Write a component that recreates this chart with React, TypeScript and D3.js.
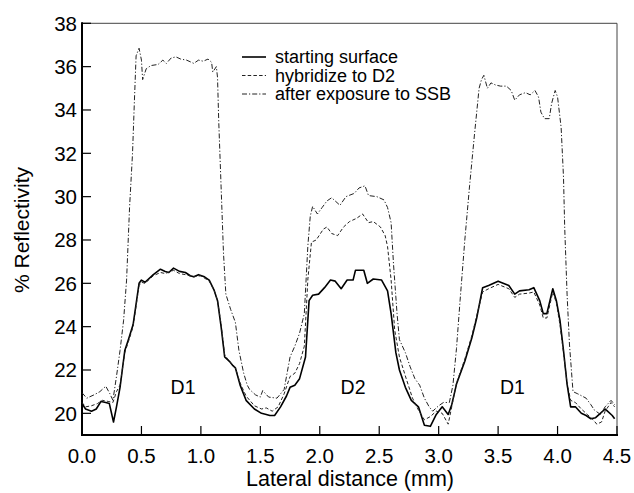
import React from "react";
import * as d3 from "d3";

const xTicks = [0, 0.5, 1.0, 1.5, 2.0, 2.5, 3.0, 3.5, 4.0, 4.5];
const yTicks = [20, 22, 24, 26, 28, 30, 32, 34, 36, 38];
const seriesNames = ["starting surface", "hybridize to D2", "after exposure to SSB"];
const regionLabels = ["D1", "D2", "D1"];
const regionX = [0.85, 2.28, 3.62];

const starting: [number, number][] = [
  [0, 20.45], [0.03, 20.2], [0.08, 20.1], [0.12, 20.2], [0.16, 20.55], [0.2, 20.5], [0.23, 20.45],
  [0.265, 19.6], [0.29, 20.3], [0.32, 21.2], [0.36, 22.9], [0.39, 23.4], [0.43, 24.1], [0.48, 26.0],
  [0.5, 26.15], [0.53, 26.05], [0.6, 26.4], [0.66, 26.65], [0.7, 26.55], [0.73, 26.5], [0.77, 26.7],
  [0.82, 26.55], [0.87, 26.5], [0.91, 26.35], [0.94, 26.3], [0.98, 26.4], [1.03, 26.3], [1.07, 26.15],
  [1.11, 25.7], [1.14, 25.2], [1.17, 24.0], [1.2, 22.6], [1.24, 22.4], [1.27, 22.2], [1.29, 22.1],
  [1.33, 21.3], [1.38, 20.6], [1.45, 20.2], [1.51, 20.0], [1.55, 19.95], [1.58, 19.9], [1.62, 19.9],
  [1.67, 20.3], [1.72, 20.8], [1.75, 21.2], [1.79, 21.3], [1.83, 21.6], [1.88, 22.6], [1.91, 25.2],
  [1.94, 25.45], [1.99, 25.5], [2.04, 25.8], [2.09, 26.15], [2.13, 26.1], [2.18, 25.75], [2.23, 26.15],
  [2.28, 26.15], [2.3, 26.6], [2.37, 26.6], [2.4, 26.0], [2.45, 26.2], [2.52, 26.15], [2.57, 25.65],
  [2.6, 24.6], [2.64, 22.8], [2.67, 22.0], [2.72, 21.2], [2.77, 20.6], [2.83, 20.3], [2.88, 19.45],
  [2.93, 19.4], [2.98, 19.95], [3.03, 20.3], [3.08, 19.95], [3.11, 20.4], [3.15, 21.35], [3.22, 22.4],
  [3.28, 23.5], [3.32, 24.4], [3.37, 25.8], [3.42, 25.9], [3.5, 26.1], [3.59, 25.9], [3.64, 25.5],
  [3.68, 25.65], [3.76, 25.7], [3.8, 25.8], [3.85, 25.2], [3.88, 24.6], [3.91, 24.6], [3.96, 25.75],
  [3.99, 25.2], [4.02, 24.3], [4.05, 22.9], [4.08, 21.35], [4.11, 20.3], [4.15, 20.3], [4.2, 20.0],
  [4.24, 19.9], [4.28, 19.75], [4.32, 19.8], [4.36, 20.0], [4.4, 20.2], [4.42, 20.1], [4.46, 19.9],
  [4.48, 19.75],
];

const hybridize: [number, number][] = [
  [0, 20.5], [0.03, 20.3], [0.08, 20.35], [0.13, 20.45], [0.17, 20.6], [0.22, 20.55], [0.26, 20.5],
  [0.29, 21.0], [0.32, 21.3], [0.36, 22.8], [0.39, 23.3], [0.43, 24.0], [0.48, 25.9], [0.5, 26.05],
  [0.53, 26.0], [0.6, 26.35], [0.66, 26.5], [0.7, 26.45], [0.77, 26.6], [0.82, 26.45], [0.87, 26.4],
  [0.94, 26.3], [1.0, 26.35], [1.07, 26.1], [1.11, 25.7], [1.14, 25.2], [1.17, 24.1], [1.2, 22.7],
  [1.24, 22.4], [1.29, 22.1], [1.33, 21.4], [1.38, 20.8], [1.45, 20.35], [1.51, 20.2], [1.55, 20.25],
  [1.6, 20.1], [1.65, 20.3], [1.7, 20.9], [1.75, 21.7], [1.79, 21.85], [1.83, 22.3], [1.87, 23.1],
  [1.9, 26.2], [1.93, 27.9], [1.97, 28.0], [2.03, 28.5], [2.06, 28.6], [2.1, 28.3], [2.15, 28.2],
  [2.2, 28.6], [2.25, 28.85], [2.31, 29.0], [2.36, 29.2], [2.41, 28.8], [2.45, 28.85], [2.51, 28.6],
  [2.55, 28.2], [2.57, 27.7], [2.6, 26.15], [2.63, 23.85], [2.67, 22.6], [2.73, 21.55], [2.78, 20.7],
  [2.83, 20.15], [2.88, 19.7], [2.93, 19.85], [2.98, 20.1], [3.03, 20.0], [3.08, 19.5], [3.11, 20.3],
  [3.15, 21.4], [3.22, 22.5], [3.28, 23.6], [3.32, 24.5], [3.37, 25.6], [3.42, 25.75], [3.5, 25.95],
  [3.59, 25.75], [3.64, 25.35], [3.68, 25.5], [3.76, 25.55], [3.8, 25.6], [3.85, 25.0], [3.88, 24.4],
  [3.91, 24.4], [3.96, 25.6], [3.99, 25.1], [4.02, 24.1], [4.05, 22.8], [4.08, 21.4], [4.11, 20.6],
  [4.15, 20.5], [4.2, 20.2], [4.25, 19.95], [4.3, 19.7], [4.33, 19.5], [4.37, 19.6], [4.4, 20.1],
  [4.45, 20.5], [4.48, 20.3],
];

const exposure: [number, number][] = [
  [0, 20.95], [0.04, 20.7], [0.1, 20.85], [0.15, 21.0], [0.2, 21.25], [0.235, 20.9], [0.26, 20.6],
  [0.29, 21.7], [0.32, 22.9], [0.35, 24.3], [0.375, 26.15], [0.4, 29.5], [0.425, 32.0], [0.44, 34.3],
  [0.455, 36.5], [0.48, 36.85], [0.5, 36.3], [0.51, 35.4], [0.54, 35.9], [0.58, 36.05], [0.64, 36.1],
  [0.68, 36.3], [0.71, 36.15], [0.75, 36.4], [0.79, 36.45], [0.83, 36.35], [0.88, 36.3], [0.94, 36.15],
  [0.98, 36.3], [1.02, 36.25], [1.06, 36.35], [1.09, 36.2], [1.1, 35.75], [1.13, 36.0], [1.14, 35.5],
  [1.15, 33.5], [1.17, 30.45], [1.19, 27.4], [1.21, 25.5], [1.25, 24.8], [1.29, 24.2], [1.32, 22.9],
  [1.36, 21.85], [1.39, 21.3], [1.41, 21.1], [1.46, 20.85], [1.5, 20.75], [1.52, 21.05], [1.57, 20.75],
  [1.64, 20.7], [1.7, 21.1], [1.75, 22.6], [1.79, 23.1], [1.83, 23.7], [1.87, 24.6], [1.9, 27.75],
  [1.92, 29.1], [1.94, 29.55], [1.98, 29.2], [2.02, 29.5], [2.06, 29.8], [2.1, 29.95], [2.17, 29.6],
  [2.22, 30.0], [2.29, 30.15], [2.33, 30.4], [2.38, 30.5], [2.41, 30.05], [2.48, 30.0], [2.54, 29.85],
  [2.57, 29.5], [2.6, 28.8], [2.62, 26.9], [2.65, 24.6], [2.67, 23.4], [2.72, 22.8], [2.76, 22.15],
  [2.8, 21.6], [2.84, 21.3], [2.88, 20.7], [2.92, 20.3], [2.95, 20.1], [3.0, 20.35], [3.04, 20.5],
  [3.09, 20.5], [3.12, 21.3], [3.15, 23.0], [3.18, 25.2], [3.22, 28.0], [3.26, 30.5], [3.3, 32.8],
  [3.34, 35.0], [3.36, 35.4], [3.38, 35.6], [3.41, 35.0], [3.44, 35.25], [3.48, 35.15], [3.52, 35.1],
  [3.57, 35.1], [3.61, 34.9], [3.64, 34.45], [3.68, 34.7], [3.73, 34.8], [3.77, 34.7], [3.81, 34.9],
  [3.84, 34.6], [3.86, 33.9], [3.89, 33.6], [3.93, 33.6], [3.95, 34.3], [3.98, 34.9], [4.0, 34.6],
  [4.03, 33.2], [4.05, 30.9], [4.06, 28.6], [4.08, 25.5], [4.1, 23.2], [4.13, 21.0], [4.17, 20.9],
  [4.24, 20.7], [4.28, 20.4], [4.31, 20.15], [4.36, 19.95], [4.4, 20.3], [4.45, 20.6], [4.48, 20.4],
];

const FONT = "'Liberation Sans', Arial, Helvetica, sans-serif";

export default function App() {
  const W = 634, H = 493;
  const left = 82, right = 617, top = 23.3, bottom = 435;
  const x = d3.scaleLinear().domain([0, 4.5]).range([left, right]);
  const y = d3.scaleLinear().domain([19, 38]).range([bottom, top]);
  const line = d3.line<[number, number]>().x((d) => x(d[0])).y((d) => y(d[1]));

  const styles = [
    { w: 1.6, dash: "", color: "#000" },
    { w: 1.0, dash: "3.5,2.2", color: "#222" },
    { w: 1.0, dash: "5,2,1.2,2", color: "#222" },
  ];
  const data = [starting, hybridize, exposure];

  return (
    <svg width={W} height={H} style={{ position: "absolute", left: 0, top: 0, background: "#fff" }}>
      <rect x={0} y={0} width={W} height={H} fill="#fff" />
      {/* frame */}
      <line x1={left} y1={top} x2={right} y2={top} stroke="#444" strokeWidth={1} />
      <line x1={right} y1={top} x2={right} y2={bottom} stroke="#444" strokeWidth={1} />
      <line x1={left} y1={top - 1} x2={left} y2={bottom + 1} stroke="#000" strokeWidth={2} />
      <line x1={left - 1} y1={bottom} x2={right + 1} y2={bottom} stroke="#000" strokeWidth={2} />
      {/* y ticks */}
      {yTicks.map((t) => (
        <g key={"y" + t}>
          <line x1={left} x2={left + 9} y1={y(t)} y2={y(t)} stroke="#000" strokeWidth={1.2} />
          <text x={77} y={y(t)} dy="0.36em" textAnchor="end" fontFamily={FONT} fontSize={20.5} fill="#000">
            {t}
          </text>
        </g>
      ))}
      {/* x ticks */}
      {xTicks.map((t) => (
        <g key={"x" + t}>
          <line x1={x(t)} x2={x(t)} y1={bottom} y2={bottom - 9} stroke="#000" strokeWidth={1.2} />
          <text x={x(t)} y={462.5} textAnchor="middle" fontFamily={FONT} fontSize={20.5} fill="#000">
            {t.toFixed(1)}
          </text>
        </g>
      ))}
      {/* axis titles */}
      <text x={350} y={486} textAnchor="middle" fontFamily={FONT} fontSize={21.5} fill="#000">
        Lateral distance (mm)
      </text>
      <text
        transform={`translate(29,230) rotate(-90)`}
        textAnchor="middle"
        fontFamily={FONT}
        fontSize={21}
        fill="#000"
      >
        % Reflectivity
      </text>
      {/* series */}
      {data.map((d, i) => (
        <path
          key={"s" + i}
          d={line(d) || ""}
          fill="none"
          stroke={styles[i].color}
          strokeWidth={styles[i].w}
          strokeDasharray={styles[i].dash}
          strokeLinejoin="round"
        />
      ))}
      {/* region labels */}
      {regionLabels.map((l, i) => (
        <text key={"r" + i} x={x(regionX[i])} y={394} textAnchor="middle" fontFamily={FONT} fontSize={19.5} fill="#000">
          {l}
        </text>
      ))}
      {/* legend */}
      {seriesNames.map((n, i) => (
        <g key={"l" + i}>
          <line
            x1={242}
            x2={266}
            y1={57 + i * 18.5}
            y2={57 + i * 18.5}
            stroke={styles[i].color}
            strokeWidth={styles[i].w}
            strokeDasharray={styles[i].dash}
          />
          <text x={275} y={57 + i * 18.5} dy="0.35em" fontFamily={FONT} fontSize={18} fill="#000">
            {n}
          </text>
        </g>
      ))}
    </svg>
  );
}
